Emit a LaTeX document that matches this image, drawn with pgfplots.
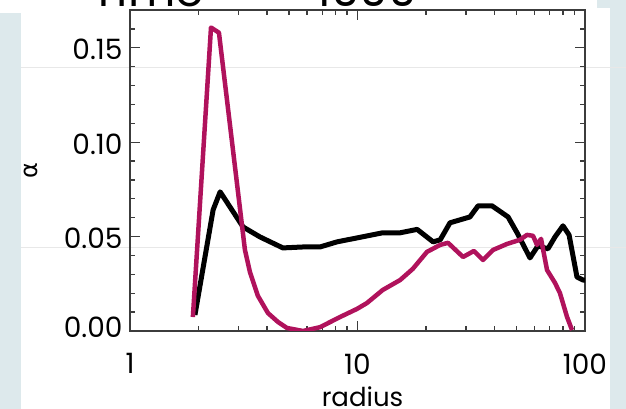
\documentclass[border=0pt]{standalone}
\usepackage{pgfplots}
\pgfplotsset{compat=1.18}
\usepackage{fontspec}
\setmainfont{Poppins}
\newfontfamily\grk{DejaVu Sans}
\definecolor{bgpanel}{RGB}{221,233,236}
\definecolor{mag}{RGB}{176,18,92}
\definecolor{faint}{RGB}{232,232,232}
\definecolor{axgray}{RGB}{60,60,60}
\begin{document}
\begin{tikzpicture}[x=1pt,y=1pt]
\path[use as bounding box] (0,0) rectangle (626,409);
\clip (0,0) rectangle (626,409);
\fill[bgpanel] (0,0) rectangle (20.5,396);
\fill[bgpanel] (610,0) rectangle (626,401);
\fill[bgpanel] (597,401) rectangle (626,409);
\draw[faint, line width=0.8pt] (20.5,342) -- (626,342);
\draw[faint, line width=0.8pt] (20.5,162) -- (626,162);
\node[anchor=base, font=\fontsize{46}{50}\selectfont] at (148,402) {Time};
\node[anchor=base, font=\fontsize{46}{50}\selectfont] at (243,402) {=};
\node[anchor=base, font=\fontsize{46}{50}\selectfont] at (367,402) {1000};
\begin{axis}[
  at={(130pt,78pt)}, anchor=south west, scale only axis,
  width=455pt, height=321pt,
  xmode=log, xmin=1, xmax=100, ymin=0, ymax=0.17,
  axis line style={line width=1.4pt, color=axgray},
  every tick/.style={line width=1.3pt, color=axgray},
  major tick length=10pt, minor tick length=5pt,
  tick align=inside,
  xtick={1,10,100}, xticklabels={1,10,100},
  minor xtick={2,3,4,5,6,7,8,9,20,30,40,50,60,70,80,90},
  ytick={0,0.05,0.10,0.15}, yticklabels={\raisebox{11pt}{0.00},0.05,0.10,0.15},
  minor ytick={0.01,0.02,0.03,0.04,0.06,0.07,0.08,0.09,0.11,0.12,0.13,0.14,0.16},
  ticklabel style={font=\fontsize{28}{32}\selectfont},
  xticklabel style={yshift=-19pt},
  yticklabel style={xshift=-4pt, yshift=-2pt},
  xlabel={radius},
  xlabel style={at={(axis description cs:0.511,0)}, anchor=base, yshift=-76pt, font=\fontsize{26}{30}\selectfont},
  ylabel={\grk α},
  ylabel style={at={(axis description cs:-0.2176,0.5)}, anchor=center, font=\fontsize{24}{28}\selectfont},
]
\addplot[black, line width=5pt, line join=round] coordinates {
(1.93,0.0085) (2.32,0.0642) (2.49,0.0737) (3.14,0.0551) (3.73,0.0498)
(4.70,0.0440) (5.76,0.0445) (6.84,0.0445) (8.13,0.0472) (9.95,0.0493)
(12.9,0.0520) (15.4,0.0520) (18.3,0.0538) (21.5,0.0472) (23.1,0.0483)
(25.5,0.0573) (31.2,0.0604) (33.9,0.0663) (39.0,0.0663) (43.2,0.0626)
(45.9,0.0604) (50.3,0.0520) (57.3,0.0387) (62.1,0.0451) (68.7,0.0435)
(73.8,0.0498) (80.0,0.0557) (85.1,0.0509) (92.2,0.0286) (98.0,0.0270) (100,0.0270)
};
\addplot[mag, line width=4.5pt, line join=round] coordinates {
(1.89,0.0074) (2.27,0.1607) (2.46,0.158) (3.20,0.043) (3.37,0.031)
(3.65,0.0186) (4.04,0.0095) (4.47,0.0048) (4.90,0.0016) (5.76,0.0)
(6.84,0.002) (8.38,0.0074) (9.95,0.0117) (11.0,0.0148) (12.9,0.0217)
(15.4,0.027) (17.5,0.0329) (20.2,0.0419) (23.1,0.0456) (25.0,0.0467)
(29.1,0.0392) (32.5,0.0424) (35.6,0.0376) (39.4,0.0429) (45.4,0.0461)
(51.8,0.0483) (55.6,0.0509) (59.1,0.0504) (61.5,0.0456) (64.1,0.0488)
(68.1,0.0323) (73.8,0.0255) (77.6,0.0201) (83.4,0.0074) (87.7,0.0005)
};
\end{axis}
\end{tikzpicture}
\end{document}
